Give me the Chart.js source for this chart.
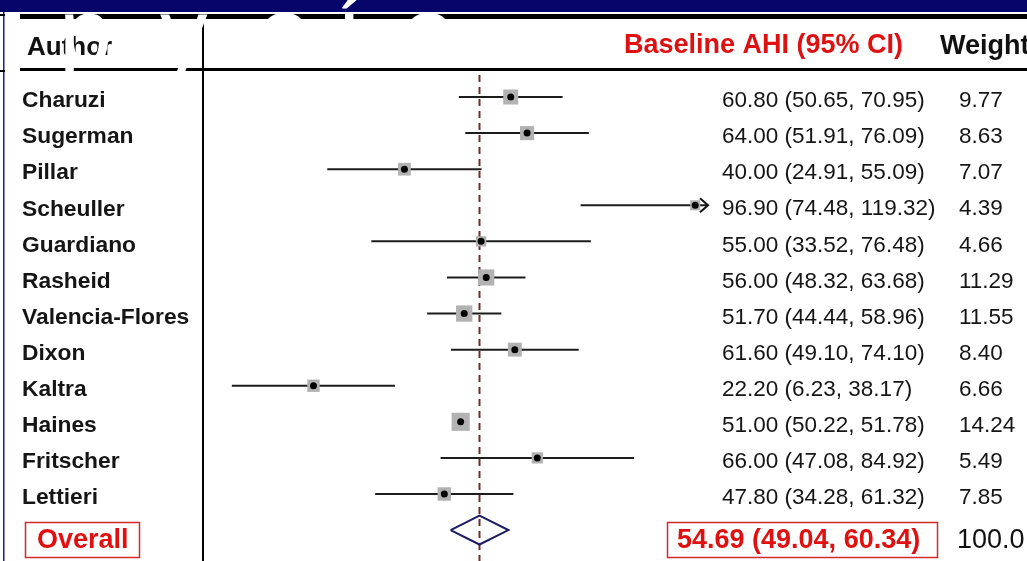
<!DOCTYPE html>
<html>
<head>
<meta charset="utf-8">
<script src="https://cdn.jsdelivr.net/npm/chart.js@4.4.0/dist/chart.umd.min.js"></script>
<style>
  html, body { margin: 0; padding: 0; background: #fff; overflow: hidden; }
  #wrap { position: relative; width: 1027px; height: 561px; }
</style>
</head>
<body>
<div id="wrap"><canvas id="forest" width="1027" height="561"></canvas></div>
<script>
// Study-level results: baseline AHI with 95% confidence intervals and weights (%)
const authors   = ['Charuzi', 'Sugerman', 'Pillar', 'Scheuller', 'Guardiano', 'Rasheid',
                   'Valencia-Flores', 'Dixon', 'Kaltra', 'Haines', 'Fritscher', 'Lettieri'];
const estimates = [60.80, 64.00, 40.00, 96.90, 55.00, 56.00, 51.70, 61.60, 22.20, 51.00, 66.00, 47.80];
const lower     = [50.65, 51.91, 24.91, 74.48, 33.52, 48.32, 44.44, 49.10, 6.23, 50.22, 47.08, 34.28];
const upper     = [70.95, 76.09, 55.09, 119.32, 76.48, 63.68, 58.96, 74.10, 38.17, 51.78, 84.92, 61.32];
const weights   = [9.77, 8.63, 7.07, 4.39, 4.66, 11.29, 11.55, 8.40, 6.66, 14.24, 5.49, 7.85];

// Pooled estimate
const overallLabel    = 'Overall';
const overallEstimate = 54.69;
const overallCI       = [49.04, 60.34];
const overallWeight   = '100.0';

// Column headings
const headAuthor = 'Author';
const headEffect = 'Baseline AHI (95% CI)';
const headWeight = 'Weight';

// Axis range for the plot panel
const xMin = 0;
const xMax = 99.4;
const yTop = -0.61;
const yBottom = 12.857;
const overallRow = 12;

const FONT = '"Liberation Sans", Arial, Helvetica, sans-serif';
const fmt = v => v.toFixed(2);

// ---- datasets ----
const datasets = [];

// reference line at the pooled estimate
datasets.push({
  type: 'line',
  data: [{ x: overallEstimate, y: yTop }, { x: overallEstimate, y: yBottom }],
  borderColor: '#6e2c2c',
  borderWidth: 2,
  borderDash: [7, 5],
  pointRadius: 0,
  order: 6
});

// confidence interval whiskers (truncated at the panel edge)
authors.forEach((a, i) => {
  datasets.push({
    type: 'line',
    data: [{ x: lower[i], y: i }, { x: Math.min(upper[i], xMax), y: i }],
    borderColor: '#1c1c1c',
    borderWidth: 2,
    pointRadius: 0,
    order: 5
  });
});

// weight boxes (area proportional to weight)
datasets.push({
  type: 'scatter',
  data: estimates.map((e, i) => ({ x: e, y: i })),
  pointStyle: 'rect',
  pointRadius: weights.map(w => Math.sqrt(w) * 4.8 / Math.SQRT2),
  backgroundColor: '#b2b2b2',
  borderWidth: 0,
  order: 4
});

// point estimates
datasets.push({
  type: 'scatter',
  data: estimates.map((e, i) => ({ x: e, y: i })),
  pointStyle: 'circle',
  pointRadius: 3.5,
  backgroundColor: '#000',
  borderWidth: 0,
  order: 3
});

// pooled diamond
const dh = 0.4;
datasets.push({
  type: 'line',
  data: [
    { x: overallCI[0], y: overallRow },
    { x: overallEstimate, y: overallRow - dh },
    { x: overallCI[1], y: overallRow },
    { x: overallEstimate, y: overallRow + dh },
    { x: overallCI[0], y: overallRow }
  ],
  borderColor: '#1d1d5f',
  borderWidth: 2,
  pointRadius: 0,
  tension: 0,
  fill: false,
  order: 2
});

// ---- frame, headings and text columns ----
const framePlugin = {
  id: 'frame',
  beforeDraw(chart) {
    const ctx = chart.ctx;
    ctx.save();
    ctx.fillStyle = '#fff';
    ctx.fillRect(0, 0, chart.width, chart.height);
    // top band
    ctx.fillStyle = '#05056a';
    ctx.fillRect(0, 0, chart.width, 12);
    // heavy rule and heading rule
    ctx.fillStyle = '#000';
    ctx.fillRect(20, 14, chart.width - 20, 5);
    ctx.fillRect(20, 68, chart.width - 20, 3);
    // column separator
    ctx.fillRect(202, 19, 2, chart.height - 19);
    // left edge
    ctx.fillStyle = '#1a1aa6';
    ctx.fillRect(3, 12, 1.5, chart.height - 12);
    ctx.fillStyle = '#000';
    ctx.fillRect(0, 14, 5, 2);
    ctx.fillRect(0, 70, 5, 2);
    ctx.restore();
  },
  afterDatasetsDraw(chart) {
    const ctx = chart.ctx;
    const xs = chart.scales.x, ys = chart.scales.y;
    ctx.save();
    // arrows for intervals running past the panel
    ctx.strokeStyle = '#111';
    ctx.lineWidth = 2;
    upper.forEach((u, i) => {
      if (u > xMax) {
        const tip = xs.getPixelForValue(xMax);
        const y = ys.getPixelForValue(i);
        ctx.beginPath();
        ctx.moveTo(tip - 8, y - 7);
        ctx.lineTo(tip, y);
        ctx.lineTo(tip - 8, y + 7);
        ctx.stroke();
      }
    });
    ctx.restore();
  },
  afterDraw(chart) {
    const ctx = chart.ctx;
    const ys = chart.scales.y;
    ctx.save();
    ctx.textBaseline = 'middle';
    ctx.textAlign = 'left';

    // headings
    ctx.fillStyle = '#111';
    ctx.font = 'bold 26px ' + FONT;
    ctx.fillText(headAuthor, 27, 48);
    ctx.fillStyle = '#dd1111';
    ctx.font = 'bold 27px ' + FONT;
    ctx.fillText(headEffect, 624, 46);
    ctx.fillStyle = '#111';
    ctx.fillText(headWeight, 940, 47);

    // study rows
    authors.forEach((a, i) => {
      const y = ys.getPixelForValue(i) + 4;
      ctx.fillStyle = '#151515';
      ctx.font = 'bold 22.8px ' + FONT;
      ctx.fillText(a, 22, y);
      ctx.font = '22.5px ' + FONT;
      ctx.fillText(fmt(estimates[i]) + ' (' + fmt(lower[i]) + ', ' + fmt(upper[i]) + ')', 722, y);
      ctx.fillText(weights[i].toFixed(2), 959, y);
    });

    // pooled row
    const yo = ys.getPixelForValue(overallRow) + 10;
    ctx.strokeStyle = '#d42a2a';
    ctx.lineWidth = 1.5;
    ctx.strokeRect(25.5, 522.5, 114, 35);
    ctx.strokeRect(667.5, 522.5, 270, 35);
    ctx.fillStyle = '#e01010';
    ctx.font = 'bold 27px ' + FONT;
    ctx.fillText(overallLabel, 37, yo);
    ctx.fillText(fmt(overallEstimate) + ' (' + fmt(overallCI[0]) + ', ' + fmt(overallCI[1]) + ')', 677, yo);
    ctx.fillStyle = '#111';
    ctx.font = '27px ' + FONT;
    ctx.fillText(overallWeight, 957, yo);

    // lower edge of the white slide title lettering (kept below the top band,
    // except for the accent)
    ctx.fillStyle = '#fff';
    ctx.textBaseline = 'alphabetic';
    ctx.font = '95px ' + FONT;
    ctx.save();
    ctx.beginPath();
    ctx.rect(0, 13, chart.width, chart.height - 13);
    ctx.clip();
    ctx.fillText('p', 59, 64);
    ctx.fillText('y', 160, 64);
    ctx.fillText('o', 258, 64);
    ctx.fillText('o', 402, 64);
    ctx.restore();
    ctx.fillText('í', 336, 64);
    ctx.restore();
  }
};

new Chart(document.getElementById('forest'), {
  type: 'scatter',
  data: { datasets },
  options: {
    responsive: false,
    animation: false,
    events: [],
    layout: { autoPadding: false, padding: { left: 200, right: 1027 - 708, top: 75, bottom: 0 } },
    plugins: { legend: { display: false }, tooltip: { enabled: false } },
    scales: {
      x: { type: 'linear', min: xMin, max: xMax, display: false },
      y: { type: 'linear', min: yTop, max: yBottom, reverse: true, display: false }
    }
  },
  plugins: [framePlugin]
});
</script>
</body>
</html>
